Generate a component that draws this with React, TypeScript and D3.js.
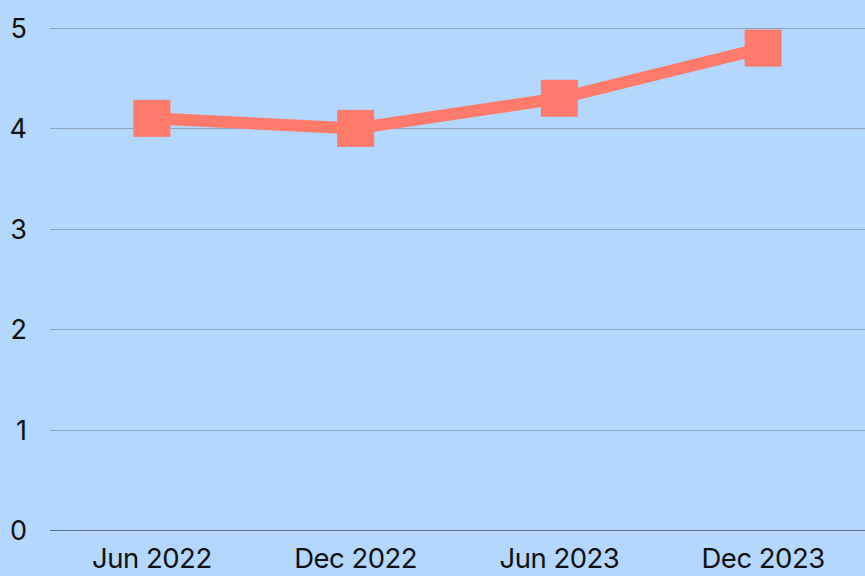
import { useEffect, useRef } from 'react';
import * as d3 from 'd3';

const categories = ['Jun 2022', 'Dec 2022', 'Jun 2023', 'Dec 2023'];
const values = [4.1, 4.0, 4.3, 4.8];
const yTicks = [0, 1, 2, 3, 4, 5];

const WIDTH = 865;
const HEIGHT = 576;

export default function App() {
    const ref = useRef<SVGSVGElement>(null);

    useEffect(() => {
        const svg = d3.select(ref.current);
        svg.selectAll('*').remove();

        const font = 'Inter, "Liberation Sans", sans-serif';

        svg.append('rect')
            .attr('width', WIDTH)
            .attr('height', HEIGHT)
            .attr('fill', '#b4d7fe');

        const x = d3.scaleBand<string>()
            .domain(categories)
            .range([50, WIDTH]);

        const y = d3.scaleLinear()
            .domain([0, 5])
            .range([530, 28]);

        // Gridlines
        svg.append('g')
            .selectAll('line')
            .data(yTicks)
            .enter()
            .append('line')
            .attr('x1', 50)
            .attr('x2', WIDTH)
            .attr('y1', d => Math.round(y(d)) + 0.5)
            .attr('y2', d => Math.round(y(d)) + 0.5)
            .attr('stroke', d => d === 0 ? '#5d6b80' : '#8fa2bd')
            .attr('stroke-width', 1.2);

        // Y labels
        svg.append('g')
            .selectAll('text')
            .data(yTicks)
            .enter()
            .append('text')
            .attr('x', 27)
            .attr('y', d => y(d) + 10)
            .attr('text-anchor', 'end')
            .attr('font-family', font)
            .attr('font-size', 27)
            .attr('fill', '#111')
            .text(d => d);

        // X labels
        svg.append('g')
            .selectAll('text')
            .data(categories)
            .enter()
            .append('text')
            .attr('x', d => (x(d) ?? 0) + x.bandwidth() / 2)
            .attr('y', 568)
            .attr('text-anchor', 'middle')
            .attr('font-family', font)
            .attr('font-size', 27.5)
            .attr('letter-spacing', -0.5)
            .attr('fill', '#111')
            .text(d => d);

        const cx = (i: number) => (x(categories[i]) ?? 0) + x.bandwidth() / 2;

        const line = d3.line<number>()
            .x((d, i) => cx(i))
            .y(d => y(d));

        svg.append('path')
            .datum(values)
            .attr('d', line)
            .attr('fill', 'none')
            .attr('stroke', '#fe7b6c')
            .attr('stroke-width', 12);

        const size = 37;
        svg.append('g')
            .selectAll('rect')
            .data(values)
            .enter()
            .append('rect')
            .attr('x', (d, i) => cx(i) - size / 2)
            .attr('y', d => y(d) - size / 2)
            .attr('width', size)
            .attr('height', size)
            .attr('fill', '#fe7b6c');
    }, []);

    return (
        <svg ref={ref} width={WIDTH} height={HEIGHT}
            style={{ position: 'absolute', left: 0, top: 0, display: 'block' }} />
    );
}
